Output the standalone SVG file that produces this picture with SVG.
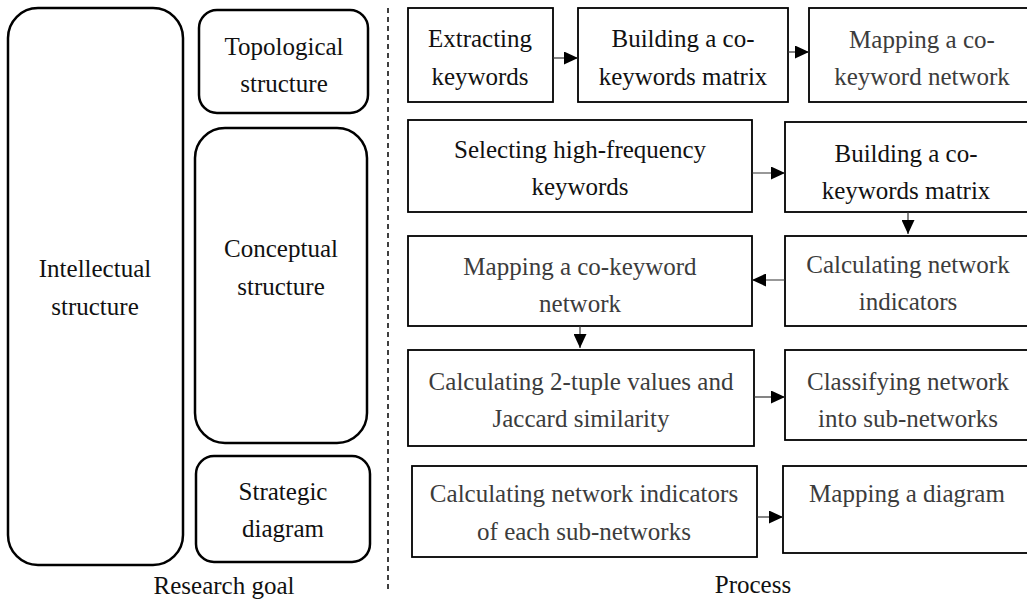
<svg xmlns="http://www.w3.org/2000/svg" width="1027" height="602" viewBox="0 0 1027 602" font-family="'Liberation Serif', 'Times New Roman', serif">
<defs>
<marker id="ah" markerUnits="userSpaceOnUse" markerWidth="14" markerHeight="13" refX="14" refY="6.5" orient="auto">
<path d="M0,0 L14,6.5 L0,13 z" fill="#000"/>
</marker>
<style>
text{font-family:'Liberation Serif','Times New Roman',serif;font-size:25px;text-anchor:middle;fill:#111}
.g{fill:#3c3c3c}
.rb{fill:#fff;stroke:#000;stroke-width:2.5}
.pb{fill:#fff;stroke:#000;stroke-width:1.8}
.c{stroke:#333;stroke-width:1.2;fill:none;marker-end:url(#ah)}
</style>
</defs>
<rect width="1027" height="602" fill="#fff"/>
<g id="intellectual">
<rect class="rb" x="8" y="8" width="175" height="557" rx="30"/>
<text x="95" y="277">Intellectual</text>
<text x="95" y="315">structure</text>
</g>
<g id="topological">
<rect class="rb" x="199" y="10" width="169" height="103" rx="18"/>
<text x="284" y="55">Topological</text>
<text x="284" y="92">structure</text>
</g>
<g id="conceptual">
<rect class="rb" x="195" y="128" width="172" height="315" rx="30"/>
<text x="281" y="257">Conceptual</text>
<text x="281" y="295">structure</text>
</g>
<g id="strategic">
<rect class="rb" x="196" y="456" width="174" height="106" rx="18"/>
<text x="283" y="500">Strategic</text>
<text x="283" y="537">diagram</text>
</g>
<g id="labels">
<text x="224" y="594">Research goal</text>
<text x="753" y="593">Process</text>
<line x1="388" y1="8" x2="388" y2="592" stroke="#000" stroke-width="1.5" stroke-dasharray="5 4"/>
</g>
<g id="extract">
<rect class="pb" x="408" y="8" width="145" height="94"/>
<text x="480" y="47">Extracting</text>
<text x="480" y="85">keywords</text>
</g>
<g id="build1">
<rect class="pb" x="578" y="8" width="210" height="94"/>
<text x="683" y="47">Building a co-</text>
<text x="683" y="85">keywords matrix</text>
</g>
<g id="map1">
<rect class="pb" x="809" y="8" width="230" height="94"/>
<text class="g" x="922" y="48">Mapping a co-</text>
<text class="g" x="922" y="85">keyword network</text>
</g>
<g id="select">
<rect class="pb" x="408" y="120" width="344" height="92"/>
<text x="580" y="158">Selecting high-frequency</text>
<text x="580" y="195">keywords</text>
</g>
<g id="build2">
<rect class="pb" x="785" y="122" width="250" height="90"/>
<text x="906" y="162">Building a co-</text>
<text x="906" y="199">keywords matrix</text>
</g>
<g id="map2">
<rect class="pb" x="408" y="236" width="344" height="90"/>
<text class="g" x="580" y="275">Mapping a co-keyword</text>
<text class="g" x="580" y="312">network</text>
</g>
<g id="calcind">
<rect class="pb" x="785" y="236" width="250" height="90"/>
<text class="g" x="908" y="273">Calculating network</text>
<text class="g" x="908" y="310">indicators</text>
</g>
<g id="tuple">
<rect class="pb" x="408" y="350" width="346" height="96"/>
<text class="g" x="581" y="390">Calculating 2-tuple values and</text>
<text class="g" x="581" y="427">Jaccard similarity</text>
</g>
<g id="classify">
<rect class="pb" x="785" y="350" width="250" height="90"/>
<text class="g" x="908" y="390">Classifying network</text>
<text class="g" x="908" y="427">into sub-networks</text>
</g>
<g id="calceach">
<rect class="pb" x="412" y="466" width="345" height="91"/>
<text class="g" x="584" y="502">Calculating network indicators</text>
<text class="g" x="584" y="540">of each sub-networks</text>
</g>
<g id="mapdiag">
<rect class="pb" x="783" y="466" width="252" height="87"/>
<text class="g" x="907" y="502">Mapping a diagram</text>
</g>
<g id="connectors">
<line class="c" x1="553" y1="58" x2="578" y2="58"/>
<line class="c" x1="788" y1="52" x2="809" y2="52"/>
<line class="c" x1="752" y1="173" x2="785" y2="173"/>
<line class="c" x1="908" y1="212" x2="908" y2="234"/>
<line class="c" x1="785" y1="280" x2="752" y2="280"/>
<line class="c" x1="580" y1="326" x2="580" y2="348"/>
<line class="c" x1="754" y1="397" x2="785" y2="397"/>
<line class="c" x1="757" y1="517" x2="783" y2="517"/>
</g>
</svg>
